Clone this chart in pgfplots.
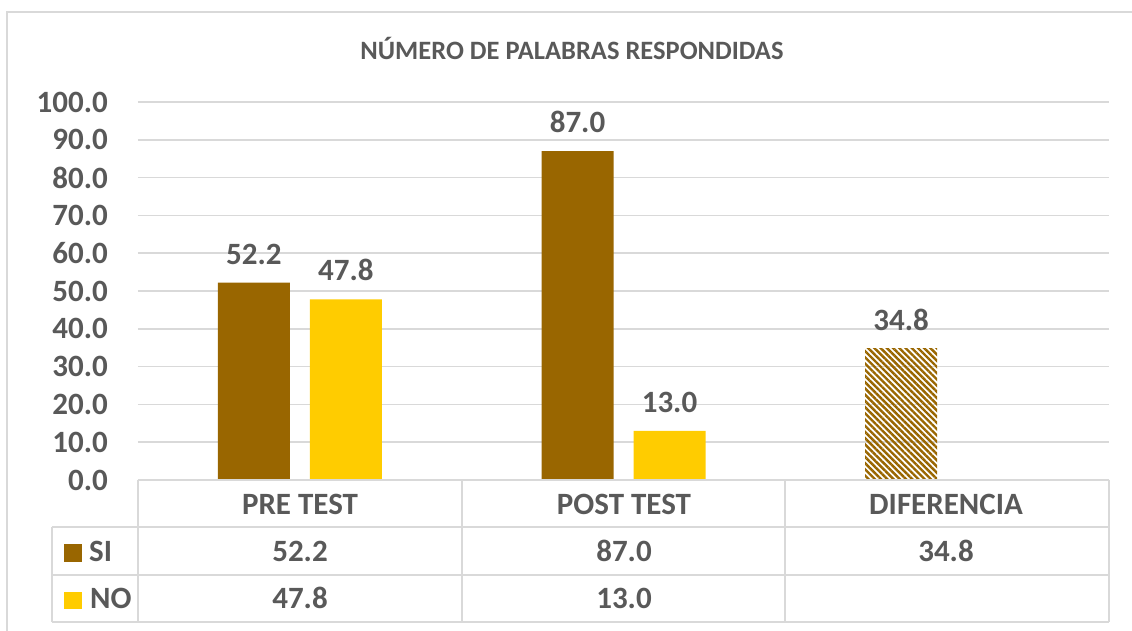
\documentclass[border=0pt]{standalone}
\usepackage{fontspec}
\setmainfont{Carlito}
\usepackage{pgfplots}
\pgfplotsset{compat=1.18}
\usetikzlibrary{patterns.meta}
\definecolor{si}{HTML}{996600}
\definecolor{no}{HTML}{FFCC00}
\definecolor{txt}{HTML}{595959}
\definecolor{grd}{HTML}{D9D9D9}
\newcommand{\bigf}{\fontsize{31}{37}\selectfont\bfseries}
\begin{document}
\begin{tikzpicture}
\useasboundingbox (-138pt,-151pt) rectangle (994pt,480pt);
\begin{axis}[
  at={(0pt,0pt)}, anchor=south west,
  scale only axis, width=971pt, height=378pt,
  xmin=-0.5, xmax=2.5, ymin=0, ymax=100,
  ytick={0,10,...,100}, xtick=\empty,
  axis line style={draw=none}, major tick length=0pt,
  ymajorgrids, grid style={grd, line width=1.5pt},
  /pgf/number format/.cd, fixed, fixed zerofill, precision=1, assume math mode=true,
  /pgfplots/.cd,
  yticklabel style={font=\bigf, text=txt, inner sep=0pt, xshift=-30pt},
  clip=false,
  ybar, bar width=72pt,
  nodes near coords,
  every node near coord/.append style={font=\bigf, text=txt, inner sep=0pt, yshift=18pt},
]
\addplot[fill=si, draw=none, bar shift=-46pt] coordinates {(0,52.2) (1,87.0)};
\addplot[fill=no, draw=none, bar shift=46pt] coordinates {(0,47.8) (1,13.0)};
\addplot[draw=none, pattern={Lines[angle=-45,distance=4.4pt,line width=2.4pt]}, pattern color=si, bar shift=-46pt] coordinates {(2,34.8)};
\end{axis}
% table
\begin{scope}[grd, line width=1.5pt]
\draw (0,0) -- (971pt,0);
\draw (-86pt,-47pt) -- (971pt,-47pt);
\draw (-86pt,-95pt) -- (971pt,-95pt);
\draw (-86pt,-142pt) -- (971pt,-142pt);
\draw (-86pt,-47pt) -- (-86pt,-142pt);
\draw (0,0) -- (0,-142pt);
\draw (324pt,0) -- (324pt,-142pt);
\draw (647pt,0) -- (647pt,-142pt);
\draw (971pt,0) -- (971pt,-142pt);
\end{scope}
\draw[grd, line width=2pt] (-131pt,-151pt) -- (-131pt,468pt) -- (994pt,468pt);
\begin{scope}[every node/.style={font=\bigf, text=txt, inner sep=0pt}]
\node at (162pt,-24pt) {PRE TEST};
\node at (486pt,-24pt) {POST TEST};
\node at (808pt,-24pt) {DIFERENCIA};
\node at (162pt,-71pt) {52.2};
\node at (486pt,-71pt) {87.0};
\node at (808pt,-71pt) {34.8};
\node at (162pt,-118pt) {47.8};
\node at (486pt,-118pt) {13.0};
\node[anchor=west] at (-49pt,-71pt) {SI};
\node[anchor=west] at (-48pt,-118pt) {NO};
\end{scope}
\fill[si] (-74pt,-64pt) rectangle (-56pt,-82pt);
\fill[no] (-74pt,-112pt) rectangle (-56pt,-129pt);
\node[font=\fontsize{26.5}{32}\selectfont\bfseries, text=txt, inner sep=0pt] at (434pt,432pt) {NÚMERO DE PALABRAS RESPONDIDAS};
\end{tikzpicture}
\end{document}
